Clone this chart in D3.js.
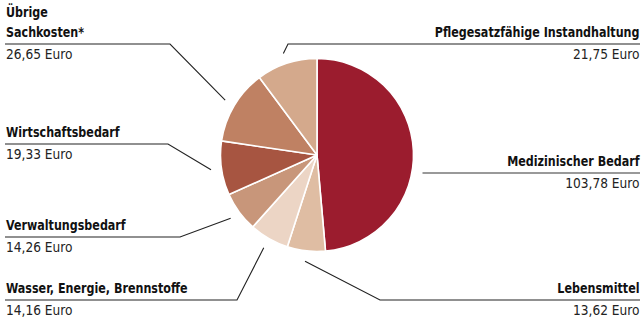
<!DOCTYPE html>
<html><head><meta charset="utf-8">
<script src="https://cdn.jsdelivr.net/npm/d3@7"></script>
<style>
html,body{margin:0;padding:0;background:#fff;}
svg{display:block;}
text{font-family:"Liberation Sans Narrow","DejaVu Sans Condensed",sans-serif;}
</style></head>
<body>
<svg id="chart" width="644" height="317"></svg>
<script>
// Data
const categories = ["Medizinischer Bedarf","Lebensmittel","Wasser, Energie, Brennstoffe","Verwaltungsbedarf","Wirtschaftsbedarf","Übrige Sachkosten*","Pflegesatzfähige Instandhaltung"];
const values = [103.78, 13.62, 14.16, 14.26, 19.33, 26.65, 21.75];
const valueLabels = ["103,78 Euro","13,62 Euro","14,16 Euro","14,26 Euro","19,33 Euro","26,65 Euro","21,75 Euro"];
const labelLines = [["Medizinischer Bedarf"],["Lebensmittel"],["Wasser, Energie, Brennstoffe"],["Verwaltungsbedarf"],["Wirtschaftsbedarf"],["Übrige","Sachkosten*"],["Pflegesatzfähige Instandhaltung"]];
const colors = ["#9b1c2e","#dfbda3","#ecd5c5","#c8967a","#a75541","#bf8163","#d4a98c"];

// Layout (label placement)
const layout = [
  {side:"right", y:173, elbowX:null},
  {side:"right", y:300, elbowX:380},
  {side:"left",  y:300, elbowX:237},
  {side:"left",  y:237, elbowX:180},
  {side:"left",  y:144, elbowX:168},
  {side:"left",  y:44,  elbowX:170},
  {side:"right", y:44,  elbowX:288}
];

const svg = d3.select("#chart");
const cx = 317, cy = 155, R = 96.5, leaderR = 107;
const leftX = 5, rightX = 640;

const pie = d3.pie().sort(null).value(d => d)(values);
const arc = d3.arc().innerRadius(0).outerRadius(R);

const g = svg.append("g").attr("transform", `translate(${cx},${cy})`);
g.selectAll("path").data(pie).join("path")
  .attr("d", arc)
  .attr("fill", (d,i) => colors[i])
  .attr("stroke", "#fff")
  .attr("stroke-width", 1.6)
  .attr("stroke-linejoin", "round");

function addText(x, y, anchor, f, t, bold, fill) {
  const grp = svg.append("g").attr("transform", `translate(${x},${y}) scale(${f},1)`);
  grp.append("text")
    .attr("x", 0).attr("y", 0)
    .attr("text-anchor", anchor)
    .attr("font-weight", bold ? "bold" : "normal")
    .attr("font-size", 14)
    .attr("fill", fill)
    .text(t);
}

pie.forEach((d, i) => {
  const L = layout[i];
  const a = (d.startAngle + d.endAngle) / 2;
  const px = cx + Math.sin(a) * leaderR, py = cy - Math.cos(a) * leaderR;
  const endX = L.side === "left" ? leftX : rightX;
  let pts;
  if (L.elbowX === null) {
    pts = [[cx + R + 9, L.y], [endX, L.y]];
  } else {
    pts = [[px, py], [L.elbowX, L.y], [endX, L.y]];
  }
  svg.append("path")
    .attr("d", d3.line()(pts))
    .attr("fill", "none")
    .attr("stroke", L.elbowX === null ? "#777" : "#222")
    .attr("stroke-width", L.elbowX === null ? 1.6 : 1.1);

  const anchor = L.side === "left" ? "start" : "end";
  const tx = L.side === "left" ? 6 : 639.5;
  const lines = labelLines[i];
  lines.forEach((t, k) => {
    addText(tx, L.y - 7 - (lines.length - 1 - k) * 20, anchor, 0.885, t, true, "#111");
  });
  addText(tx, L.y + 14.5, anchor, 0.97, valueLabels[i], false, "#222");
});
</script>
</body></html>
